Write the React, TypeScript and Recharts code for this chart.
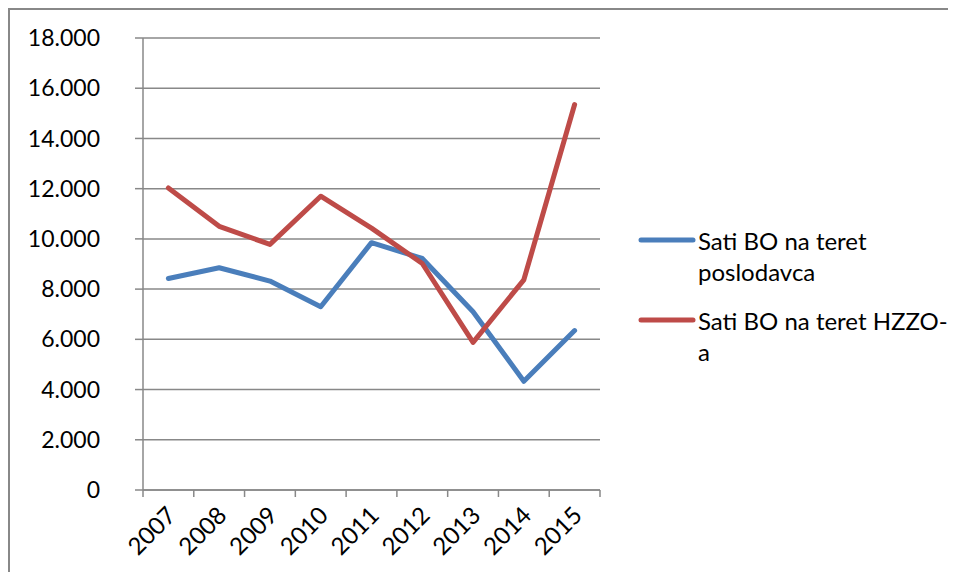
import { LineChart, Line, XAxis, YAxis, CartesianGrid } from 'recharts'

const years = ['2007', '2008', '2009', '2010', '2011', '2012', '2013', '2014', '2015']
const poslodavac = [8420, 8850, 8320, 7300, 9850, 9220, 7100, 4330, 6350]
const hzzo = [12030, 10500, 9780, 11700, 10430, 9020, 5880, 8370, 15350]
const yTicks = [0, 2000, 4000, 6000, 8000, 10000, 12000, 14000, 16000, 18000]

const seriesNames = ['Sati BO na teret poslodavca', 'Sati BO na teret HZZO-a']
const legendLines = [
  ['Sati BO na teret', 'poslodavca'],
  ['Sati BO na teret HZZO-', 'a'],
]

const BLUE = '#4A7EBB'
const RED = '#BE4B48'
const GRID = '#888888'
const FONT = 'Lato, "Open Sans", sans-serif'

const W = 938
const H = 562
const PLOT_LEFT = 133
const PLOT_W = 457
const BW = PLOT_W / years.length

const data = years.map((year, i) => ({ year, a: poslodavac[i], b: hzzo[i] }))

const fmt = (v: number) => (v === 0 ? '0' : `${Math.floor(v / 1000)}.${String(v % 1000).padStart(3, '0')}`)

const YearTick = ({ x, y, payload, index }: any) => {
  const tx = x + 9
  const ty = y + 27
  return (
    <g>
      <line x1={x - BW / 2} x2={x - BW / 2} y1={y} y2={y + 7} stroke={GRID} strokeWidth={1.5} />
      {index === years.length - 1 && (
        <line x1={x + BW / 2} x2={x + BW / 2} y1={y} y2={y + 7} stroke={GRID} strokeWidth={1.5} />
      )}
      <text x={tx} y={ty} transform={`rotate(-45, ${tx}, ${ty})`} textAnchor="end" fill="#000" fontSize={24} fontFamily={FONT}>
        {payload.value}
      </text>
    </g>
  )
}

export default function App() {
  const colors = [BLUE, RED]
  return (
    <div
      style={{
        position: 'relative',
        width: 940,
        height: 564,
        boxSizing: 'border-box',
        borderLeft: `2px solid ${GRID}`,
        borderTop: `2px solid ${GRID}`,
        overflow: 'hidden',
        fontFamily: FONT,
        background: '#fff',
      }}
    >
      <LineChart width={W} height={H} data={data} margin={{ top: 28, right: W - PLOT_LEFT - PLOT_W, bottom: 0, left: 0 }}>
        <CartesianGrid vertical={false} stroke={GRID} strokeWidth={1.5} />
        <XAxis
          dataKey="year"
          scale="band"
          height={82}
          tickSize={0}
          tickMargin={0}
          tickLine={false}
          axisLine={{ stroke: GRID, strokeWidth: 1.5 }}
          tick={<YearTick />}
          interval={0}
        />
        <YAxis
          width={PLOT_LEFT}
          domain={[0, 18000]}
          ticks={yTicks}
          tickFormatter={fmt}
          tickSize={8}
          tickMargin={35}
          axisLine={{ stroke: GRID, strokeWidth: 1.5 }}
          tickLine={{ stroke: GRID, strokeWidth: 1.5 }}
          tick={{ fill: '#000', fontSize: 23, fontFamily: FONT }}
        />
        <Line
          dataKey="a"
          name={seriesNames[0]}
          type="linear"
          stroke={BLUE}
          strokeWidth={5}
          strokeLinecap="round"
          strokeLinejoin="round"
          dot={false}
          isAnimationActive={false}
        />
        <Line
          dataKey="b"
          name={seriesNames[1]}
          type="linear"
          stroke={RED}
          strokeWidth={5}
          strokeLinecap="round"
          strokeLinejoin="round"
          dot={false}
          isAnimationActive={false}
        />
      </LineChart>
      {legendLines.map((lines, i) => (
        <div
          key={i}
          style={{ position: 'absolute', left: 628, top: i === 0 ? 215 : 295, display: 'flex', alignItems: 'flex-start' }}
        >
          <svg width={60} height={30} style={{ display: 'block' }}>
            <line x1={3} x2={55} y1={15} y2={15} stroke={colors[i]} strokeWidth={5} strokeLinecap="round" />
          </svg>
          <div style={{ fontSize: 24, lineHeight: '31px', color: '#000', whiteSpace: 'nowrap' }}>
            {lines.map((l, j) => (
              <div key={j}>{l}</div>
            ))}
          </div>
        </div>
      ))}
    </div>
  )
}
